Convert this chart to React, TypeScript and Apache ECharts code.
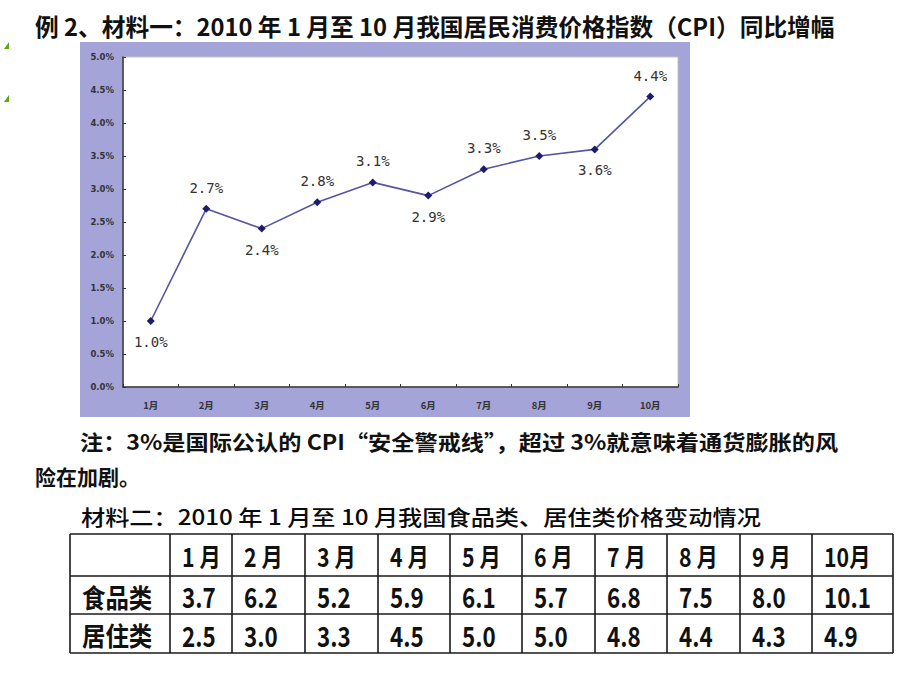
import React, { useEffect, useRef } from "react";
import * as echarts from "echarts";

// ---------- data ----------
const months = ["1月", "2月", "3月", "4月", "5月", "6月", "7月", "8月", "9月", "10月"];
const cpiValues = [1.0, 2.7, 2.4, 2.8, 3.1, 2.9, 3.3, 3.5, 3.6, 4.4];
const cpiLabelSide = ["bottom", "top", "bottom", "top", "top", "bottom", "top", "top", "bottom", "top"];
const yMin = 0;
const yMax = 5;
const yInterval = 0.5;

const tableHeaders = ["1 月", "2 月", "3 月", "4 月", "5 月", "6 月", "7 月", "8 月", "9 月", "10月"];
const rowLabels = ["食品类", "居住类"];
const foodValues = [3.7, 6.2, 5.2, 5.9, 6.1, 5.7, 6.8, 7.5, 8.0, 10.1];
const housingValues = [2.5, 3.0, 3.3, 4.5, 5.0, 5.0, 4.8, 4.4, 4.3, 4.9];

const titleText = "例 2、材料一：2010 年 1 月至 10 月我国居民消费价格指数（CPI）同比增幅";
const noteLine1 = "注：3%是国际公认的 CPI“安全警戒线”，超过 3%就意味着通货膨胀的风";
const noteLine2 = "险在加剧。";
const material2Text = "材料二：2010 年 1 月至 10 月我国食品类、居住类价格变动情况";

// ---------- layout ----------
const CJK = '"Noto Sans CJK SC", sans-serif';
const PANEL = { x: 80, y: 42, w: 610, h: 375 };
const PLOT = { left: 123, top: 57, width: 555, height: 330 };
const colX = [70, 170, 232, 305, 378, 450, 522, 595, 667, 740, 812, 893];
const rowY = [534, 576, 614, 653];

function measure(text: string, font: string): number {
  const ctx = document.createElement("canvas").getContext("2d");
  if (!ctx) return 0;
  ctx.font = font;
  return ctx.measureText(text).width;
}

function fitText(
  text: string,
  x: number,
  y: number,
  size: number,
  weight: string,
  targetWidth: number | null,
  fill = "#111",
  fixedScale = 1
) {
  let sx = fixedScale;
  if (targetWidth) {
    const w = measure(text, `${weight} ${size}px "Noto Sans CJK SC"`);
    if (w > 0) sx = targetWidth / w;
  }
  return {
    type: "text",
    x,
    y,
    scaleX: sx,
    z: 10,
    style: {
      text,
      x: 0,
      y: 0,
      fill,
      fontSize: size,
      fontWeight: weight,
      fontFamily: CJK,
      textAlign: "left",
      align: "left",
      textVerticalAlign: "middle",
      verticalAlign: "middle",
    },
  };
}

function buildTable(): any[] {
  const els: any[] = [];
  const lineStyle = { stroke: "#1a1a1a", lineWidth: 1.6 };
  rowY.forEach((y) => {
    els.push({ type: "line", z: 9, shape: { x1: colX[0], y1: y, x2: colX[colX.length - 1], y2: y }, style: lineStyle });
  });
  colX.forEach((x) => {
    els.push({ type: "line", z: 9, shape: { x1: x, y1: rowY[0], x2: x, y2: rowY[rowY.length - 1] }, style: lineStyle });
  });
  const mid = (i: number) => (rowY[i] + rowY[i + 1]) / 2;
  tableHeaders.forEach((h, i) => {
    els.push(fitText(h, colX[i + 1] + 12, mid(0) + 1, 26, "bold", null, "#111", 0.82));
  });
  const rows = [foodValues, housingValues];
  rowLabels.forEach((lab, r) => {
    els.push(fitText(lab, colX[0] + 12, mid(r + 1) + 1, 26, "bold", null, "#111", 0.9));
    rows[r].forEach((v, i) => {
      els.push(fitText(v.toFixed(1), colX[i + 1] + 12, mid(r + 1) + 1, 28, "bold", null, "#111", 0.8));
    });
  });
  return els;
}

export default function App() {
  const ref = useRef<HTMLDivElement>(null);

  useEffect(() => {
    if (!ref.current) return;
    const chart = echarts.init(ref.current, null, { renderer: "svg" });

    const seriesData = cpiValues.map((v, i) => ({
      value: v,
      label: { position: cpiLabelSide[i] },
    }));

    const graphics: any[] = [
      { type: "polygon", z: 5, shape: { points: [[4, 49], [9, 49], [9, 42]] }, style: { fill: "#5aa812" } },
      { type: "polygon", z: 5, shape: { points: [[4, 102], [9, 102], [9, 95]] }, style: { fill: "#5aa812" } },
      { type: "rect", z: -10, shape: { x: PANEL.x, y: PANEL.y, width: PANEL.w, height: PANEL.h }, style: { fill: "#a4a4d8" } },
      {
        type: "rect",
        z: -9,
        shape: { x: PLOT.left, y: PLOT.top, width: PLOT.width, height: PLOT.height },
        style: { fill: "#ffffff", stroke: "#c4c4c4", lineWidth: 1 },
      },
      fitText(titleText, 35, 25, 24, "bold", 800),
      fitText(noteLine1, 80, 441, 21, "bold", 770),
      fitText(noteLine2, 35, 476, 21, "bold", 105),
      fitText(material2Text, 81, 516, 21, "500", 680, "#0a0a0a"),
      ...buildTable(),
    ];

    chart.setOption({
      animation: false,
      backgroundColor: "#ffffff",
      grid: { ...PLOT, containLabel: false, show: false },
      xAxis: {
        type: "category",
        data: months,
        boundaryGap: true,
        axisLine: { show: true, lineStyle: { color: "#333", width: 1.5 } },
        axisTick: { show: true, inside: true, length: 3, lineStyle: { color: "#333" } },
        axisLabel: { fontSize: 9.5, fontWeight: "bold", color: "#333", margin: 13, fontFamily: CJK },
        splitLine: { show: false },
      },
      yAxis: {
        type: "value",
        min: yMin,
        max: yMax,
        interval: yInterval,
        axisLine: { show: true, lineStyle: { color: "#333", width: 1.5 } },
        axisTick: { show: true, inside: true, length: 3, lineStyle: { color: "#333" } },
        axisLabel: {
          fontSize: 8.5,
          fontWeight: "bold",
          color: "#333",
          margin: 9,
          fontFamily: '"DejaVu Sans", sans-serif',
          formatter: (v: number) => v.toFixed(1) + "%",
        },
        splitLine: { show: false },
      },
      series: [
        {
          type: "line",
          data: seriesData,
          symbol: "diamond",
          symbolSize: 8,
          itemStyle: { color: "#1c1c6e" },
          lineStyle: { color: "#5454a8", width: 1.6 },
          label: {
            show: true,
            distance: 10,
            fontSize: 14,
            color: "#333",
            fontFamily: '"DejaVu Sans Mono", monospace',
            formatter: (p: any) => Number(p.value).toFixed(1) + "%",
          },
          z: 3,
        },
      ],
      graphic: { elements: graphics },
    });

    return () => chart.dispose();
  }, []);

  return (
    <div
      ref={ref}
      style={{ position: "fixed", left: 0, top: 0, width: 920, height: 690, background: "#fff" }}
    />
  );
}
